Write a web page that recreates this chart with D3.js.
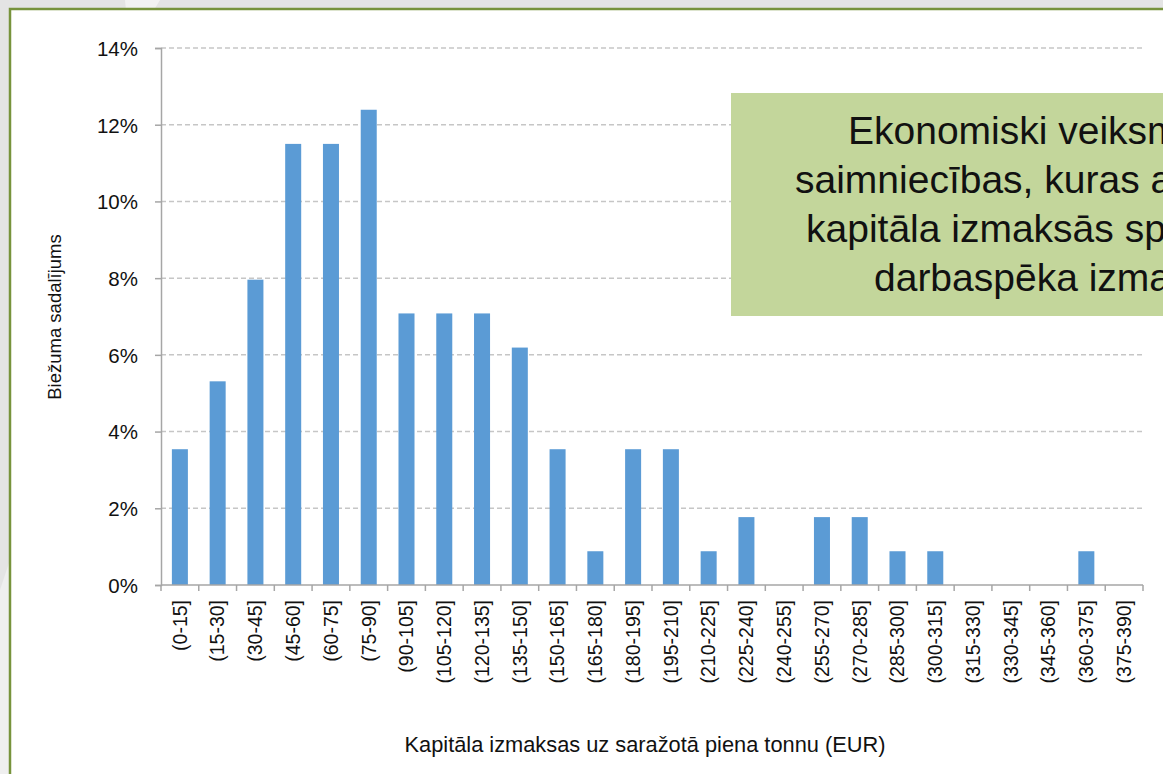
<!DOCTYPE html>
<html>
<head>
<meta charset="utf-8">
<script src="https://cdn.jsdelivr.net/npm/d3@7"></script>
<style>
  body { margin: 0; background: #e4e4e4; overflow: hidden; }
  svg { display: block; font-family: "Liberation Sans", Arial, sans-serif; }
</style>
</head>
<body>
<div id="chart"></div>
<script>
// data
const categories = ["(0-15]", "(15-30]", "(30-45]", "(45-60]", "(60-75]", "(75-90]", "(90-105]", "(105-120]",
  "(120-135]", "(135-150]", "(150-165]", "(165-180]", "(180-195]", "(195-210]", "(210-225]", "(225-240]",
  "(240-255]", "(255-270]", "(270-285]", "(285-300]", "(300-315]", "(315-330]", "(330-345]", "(345-360]",
  "(360-375]", "(375-390]"]
const shares = [3.54, 5.31, 7.96, 11.5, 11.5, 12.39, 7.08, 7.08, 7.08, 6.19, 3.54, 0.88, 3.54, 3.54, 0.88, 1.77,
  0, 1.77, 1.77, 0.88, 0.88, 0, 0, 0, 0.88, 0]
const yTicks = [0, 2, 4, 6, 8, 10, 12, 14]
const xTitle = "Kapitāla izmaksas uz saražotā piena tonnu (EUR)"
const yTitle = "Biežuma sadalījums"
const noteLines = ["Ekonomiski veiksmīgākās", "saimniecības, kuras arī", "kapitāla izmaksās spēj", "darbaspēka izmaksas"]
const noteStarts = [848, 795, 806, 874]

// ----------------------------------------------------------
const width = 1163
const height = 774
const margin = {top: 48, bottom: 189, left: 161, right: 20}

const svg = d3.select("div#chart").append("svg").attr("width", width).attr("height", height)

// background + frame
svg.append("path")
  .attr("d", "M125,0 L160,0 L130,50 Z")
  .attr("fill", "#f2f2f2")
svg.append("path")
  .attr("d", "M0,590 L10,560 L10,774 L0,774 Z")
  .attr("fill", "#efefef")
svg.append("rect")
  .attr("x", 10).attr("y", 9)
  .attr("width", width).attr("height", height)
  .attr("fill", "#ffffff")
  .attr("stroke", "#77933c")
  .attr("stroke-width", 2.5)

const x = d3.scaleBand()
  .domain(categories)
  .range([margin.left, width - margin.right])
  .paddingInner(0.576)
  .paddingOuter(0.288)
const y = d3.scaleLinear().domain([0, 14]).range([height - margin.bottom, margin.top])

// grid
svg.append("g").attr("id", "grid")
  .selectAll("line").data(yTicks.filter(d => d > 0)).join("line")
  .attr("x1", margin.left).attr("x2", width - margin.right)
  .attr("y1", d => y(d)).attr("y2", d => y(d))
  .attr("stroke", "#c6c6c6")
  .attr("stroke-width", 1.5)
  .attr("stroke-dasharray", "5,3")

// bars
svg.append("g").attr("id", "bars")
  .selectAll("rect").data(categories).join("rect")
  .attr("x", d => x(d))
  .attr("y", (d, i) => y(shares[i]))
  .attr("width", x.bandwidth())
  .attr("height", (d, i) => y(0) - y(shares[i]))
  .attr("fill", "#5b9bd5")

// y axis
const yAxis = d3.axisLeft(y).tickValues(yTicks).tickFormat(d => d + "%").tickSize(6).tickPadding(17)
const yAxisGroup = svg.append("g").attr("transform", `translate(${margin.left},0)`).call(yAxis)
yAxisGroup.select(".domain").attr("stroke", "#a6a6a6").attr("stroke-width", 1.5)
yAxisGroup.selectAll(".tick line").attr("stroke", "#a6a6a6").attr("stroke-width", 1.5)
yAxisGroup.selectAll(".tick text")
  .style("font-size", "20.5px").attr("fill", "#111").attr("dy", "0.36em")

// x axis
const step = x.step()
const xAxisGroup = svg.append("g").attr("transform", `translate(0,${y(0)})`)
xAxisGroup.append("line")
  .attr("x1", margin.left).attr("x2", width - margin.right)
  .attr("stroke", "#a6a6a6").attr("stroke-width", 1.5)
xAxisGroup.selectAll("line.tk").data(categories.concat(["end"])).join("line")
  .attr("class", "tk")
  .attr("x1", (d, i) => margin.left + i * step).attr("x2", (d, i) => margin.left + i * step)
  .attr("y1", 0).attr("y2", 6)
  .attr("stroke", "#a6a6a6").attr("stroke-width", 1.5)
xAxisGroup.selectAll("text").data(categories).join("text")
  .text(d => d)
  .attr("transform", d => `translate(${x(d) + x.bandwidth() / 2},15) rotate(-90)`)
  .attr("text-anchor", "end")
  .attr("dy", "0.35em")
  .style("font-size", "19.5px")
  .attr("fill", "#111")

// titles
svg.append("text")
  .text(xTitle)
  .attr("x", 645).attr("y", 752)
  .attr("text-anchor", "middle")
  .style("font-size", "21.8px")
  .attr("fill", "#111")
svg.append("text")
  .text(yTitle)
  .attr("transform", "translate(61,317) rotate(-90)")
  .attr("text-anchor", "middle")
  .style("font-size", "18.5px")
  .attr("fill", "#111")

// note box
const note = svg.append("g").attr("id", "note")
note.append("rect")
  .attr("x", 731).attr("y", 93)
  .attr("width", 560).attr("height", 223)
  .attr("fill", "#c3d69b")
note.selectAll("text").data(noteLines).join("text")
  .text(d => d)
  .attr("x", (d, i) => noteStarts[i]).attr("y", (d, i) => 144 + i * 49)
  .style("font-size", "39px")
  .attr("fill", "#111")
</script>
</body>
</html>
